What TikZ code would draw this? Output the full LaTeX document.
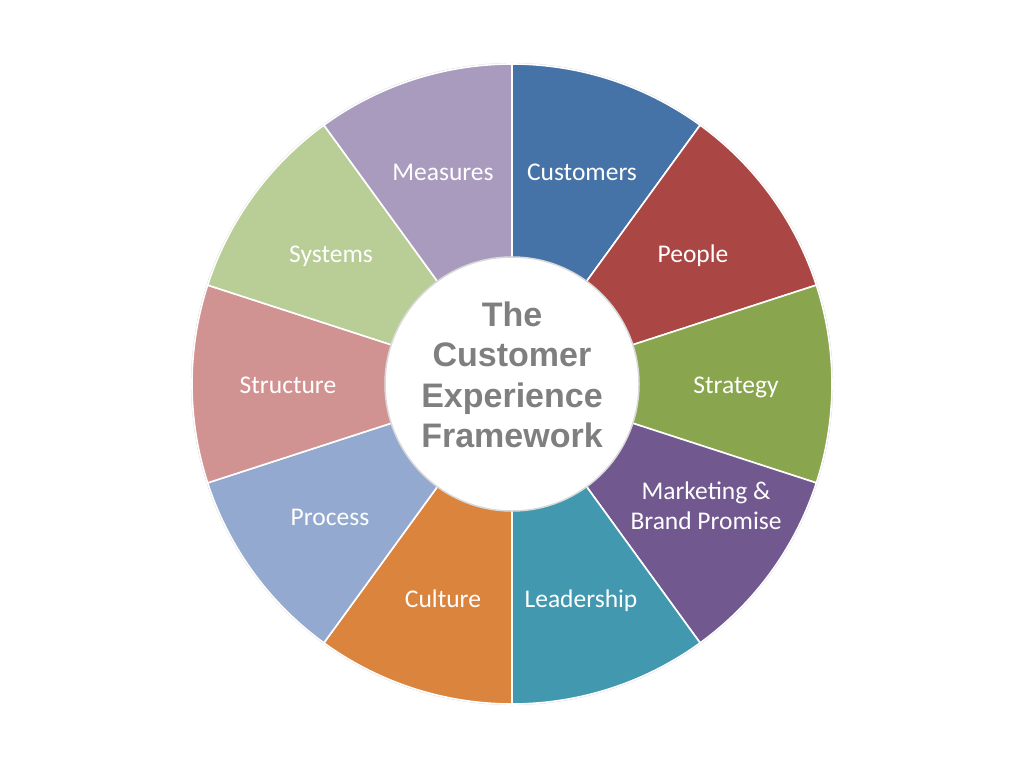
\documentclass[tikz,border=0pt]{standalone}
\usepackage{fontspec}
\usepackage{xcolor}
\usepackage{tikz}
\usetikzlibrary{positioning,calc}
\newfontfamily\labelfont{Carlito}
\newfontfamily\titlefont{Liberation Sans}

\definecolor{custblue}{HTML}{4572A7}
\definecolor{peoplered}{HTML}{AA4643}
\definecolor{stratgreen}{HTML}{89A54E}
\definecolor{markpurple}{HTML}{71588F}
\definecolor{leadteal}{HTML}{4198AF}
\definecolor{cultorange}{HTML}{DB843D}
\definecolor{procblue}{HTML}{93A9CF}
\definecolor{structred}{HTML}{D19392}
\definecolor{sysgreen}{HTML}{B9CD96}
\definecolor{measpurple}{HTML}{A99BBD}
\definecolor{titlegray}{HTML}{7F7F7F}

\begin{document}
\begin{tikzpicture}[x=1pt, y=1pt,
  seg/.style={draw=white, line width=1.6pt},
  lbl/.style={text=white, font=\labelfont\fontsize{25.5}{29.5}\selectfont, align=center,
    inner sep=0pt, text height=16.4pt, text depth=0pt}]
  \useasboundingbox (-512,-384) rectangle (512,384);

  % Outer edge
  \draw[gray!30, line width=1.2pt] (0,0) circle (320.5);

  % Segments
  \draw[seg, fill=custblue] (0,0) -- (90:320) arc[start angle=90, end angle=54, radius=320] -- cycle;
  \draw[seg, fill=peoplered] (0,0) -- (54:320) arc[start angle=54, end angle=18, radius=320] -- cycle;
  \draw[seg, fill=stratgreen] (0,0) -- (18:320) arc[start angle=18, end angle=-18, radius=320] -- cycle;
  \draw[seg, fill=markpurple] (0,0) -- (-18:320) arc[start angle=-18, end angle=-54, radius=320] -- cycle;
  \draw[seg, fill=leadteal] (0,0) -- (-54:320) arc[start angle=-54, end angle=-90, radius=320] -- cycle;
  \draw[seg, fill=cultorange] (0,0) -- (-90:320) arc[start angle=-90, end angle=-126, radius=320] -- cycle;
  \draw[seg, fill=procblue] (0,0) -- (-126:320) arc[start angle=-126, end angle=-162, radius=320] -- cycle;
  \draw[seg, fill=structred] (0,0) -- (198:320) arc[start angle=198, end angle=162, radius=320] -- cycle;
  \draw[seg, fill=sysgreen] (0,0) -- (162:320) arc[start angle=162, end angle=126, radius=320] -- cycle;
  \draw[seg, fill=measpurple] (0,0) -- (126:320) arc[start angle=126, end angle=90, radius=320] -- cycle;

  % Hub
  \draw[gray!30, line width=1.5pt, fill=white] (0,0) circle (127);
  \node[text=titlegray, font=\titlefont\bfseries\fontsize{34}{40.5}\selectfont,
    align=center, inner sep=0pt] (hub) at (0,9) {The\\Customer\\Experience\\Framework};

  % Labels
  \node[lbl] (customers) at (70,212) {Customers};
  \node[lbl] (people) at (181,130) {People};
  \node[lbl] (strategy) at (224,-1) {Strategy};
  \node[lbl] (marketing) at (194,-137) {Marketing \&\\Brand Promise};
  \node[lbl] (leadership) at (69,-215) {Leadership};
  \node[lbl] (culture) at (-69,-215) {Culture};
  \node[lbl] (process) at (-182,-133) {Process};
  \node[lbl] (structure) at (-224,-1) {Structure};
  \node[lbl] (systems) at (-181,130) {Systems};
  \node[lbl] (measures) at (-69,212) {Measures};
\end{tikzpicture}
\end{document}
